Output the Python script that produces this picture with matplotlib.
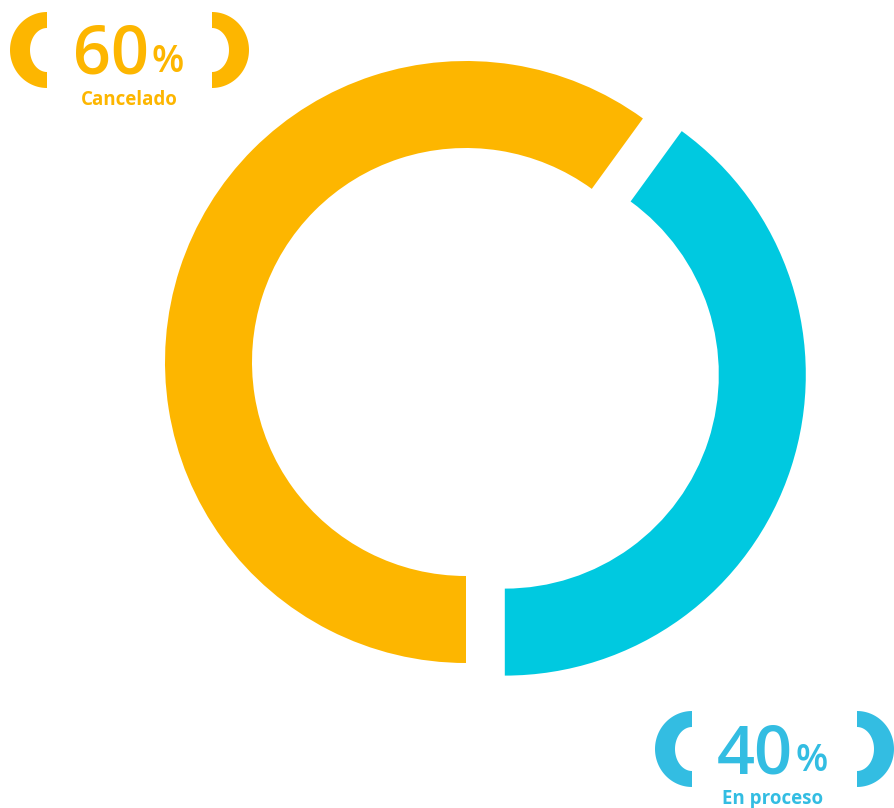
import matplotlib
matplotlib.use("Agg")
import matplotlib.pyplot as plt
import numpy as np
from matplotlib.patches import Polygon

# data
labels = ["Cancelado", "En proceso"]
values = [60, 40]
colors = ["#FDB600", "#00C9E0"]
text_colors = ["#FDB600", "#33BDE2"]
pct_labels = ["60", "40"]

W, H = 895, 808
fig = plt.figure(figsize=(W / 100, H / 100), dpi=100)
ax = fig.add_axes([0, 0, 1, 1])

R = 301
ring = 87
ax.pie(values, colors=colors, startangle=54, counterclock=True,
       center=(466, H - 362), radius=R, explode=[0, 40.8],
       wedgeprops=dict(width=ring, linewidth=0))

ax.set_xlim(0, W)
ax.set_ylim(0, H)
ax.set_aspect("equal")
ax.axis("off")


def bracket(cx, cy, side, color):
    # half ring shaped parenthesis
    t = np.linspace(np.pi / 2, 3 * np.pi / 2, 60)
    ox, oy = 37 * np.cos(t), 38 * np.sin(t)
    ix, iy = 17 * np.cos(t[::-1]), 22 * np.sin(t[::-1])
    xs = np.concatenate([ox, ix]) * side + cx
    ys = np.concatenate([oy, iy]) + cy
    ax.add_patch(Polygon(np.column_stack([xs, ys]), closed=True,
                         facecolor=color, edgecolor="none"))


# label groups: (center x, bracket y, left bracket x, right bracket x)
groups = [(129, 50, 47, 212), (773, 749, 692, 857)]
for (mx, by, lx, rx), pct, lab, col in zip(groups, pct_labels, labels, text_colors):
    yb = H - by
    bracket(lx, yb, 1, col)
    bracket(rx, yb, -1, col)
    ax.text(mx + 20, yb - 24, pct, ha="right", va="baseline", fontsize=48,
            family="Open Sans", weight="semibold", color=col)
    ax.text(mx + 23, yb - 22, "%", ha="left", va="baseline", fontsize=27,
            family="Open Sans", weight="semibold", color=col)
    ax.text(mx, yb - 55, lab, ha="center", va="baseline", fontsize=13.5,
            family="Open Sans", weight="bold", color=col)

fig.savefig("out.png", dpi=100)
